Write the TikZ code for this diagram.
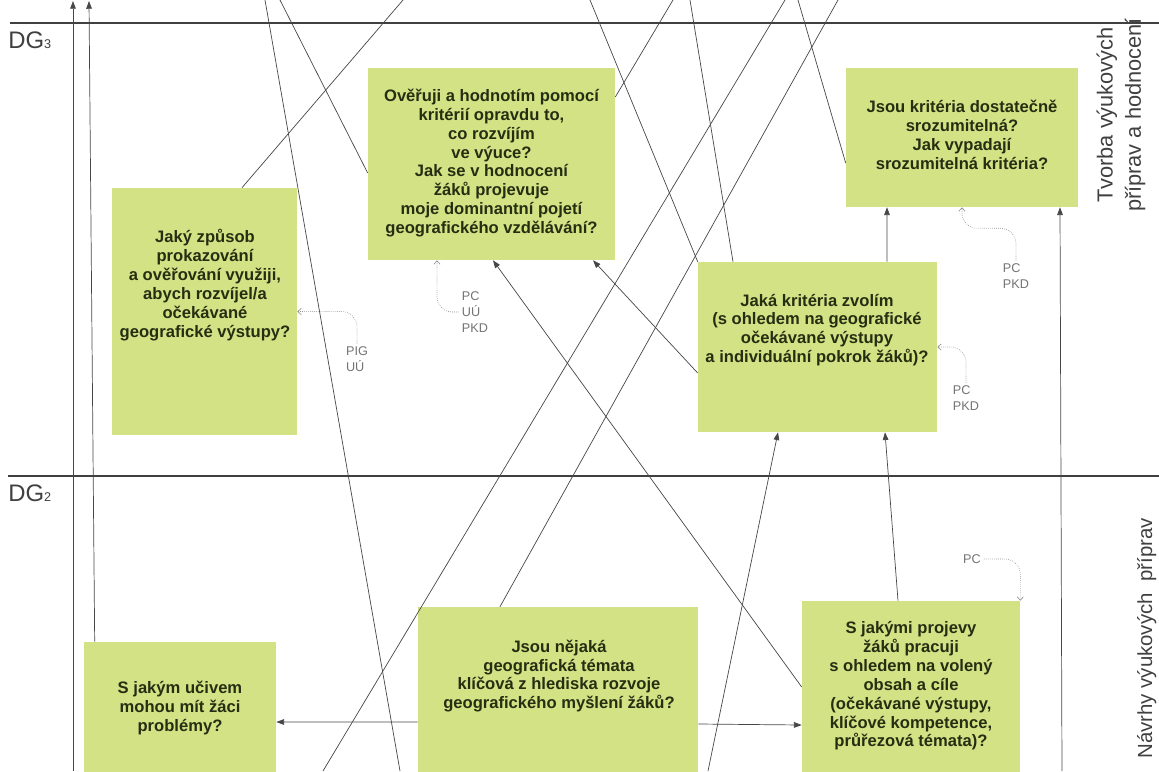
\documentclass[tikz,border=0pt]{standalone}
\usepackage{fontspec}
\setmainfont{Liberation Sans}
\usetikzlibrary{arrows.meta,calc}
\definecolor{boxgreen}{RGB}{212,226,134}
\definecolor{boxtext}{RGB}{38,46,18}
\definecolor{linkgray}{RGB}{70,70,70}
\definecolor{notegray}{RGB}{115,115,115}
\begin{document}
\begin{tikzpicture}[x=0.025cm, y=-0.025cm,
    qbox/.style = {rectangle, fill=boxgreen, draw=none, inner sep=0pt},
    qtext/.style = {align=center, text=boxtext, inner sep=0pt,
                    font=\fontsize{11.8}{13.4}\selectfont\bfseries},
    link/.style = {draw=linkgray, line width=0.5pt},
    arr/.style = {link, -{Triangle[length=5.5pt,width=4pt]}},
    note/.style = {align=left, text=notegray, inner sep=0pt,
                   font=\fontsize{9}{11.2}\selectfont},
    notearr/.style = {draw=notegray!80, line width=0.45pt, densely dotted,
                      rounded corners=11pt, shorten <=2pt,
                      -{Straight Barb[length=2.5pt,width=4.5pt]}},
    level/.style = {anchor=base west, text=black!75, inner sep=0pt,
                    font=\fontsize{17}{17}\selectfont},
    phase/.style = {rotate=90, align=center, text=black!75, inner sep=0pt,
                    font=\fontsize{15.5}{20}\selectfont}]
  \clip (0,0) rectangle (1159,771);

  % levels
  \draw[line width=1.2pt, black!75] (10,23) -- (1159,23);
  \draw[line width=1.2pt, black!75] (8,476) -- (1159,476);
  \node[level] (dg3) at (8,48) {DG{\fontsize{9}{9}\selectfont 3}};
  \node[level] (dg2) at (8,501) {DG{\fontsize{9}{9}\selectfont 2}};
  \node[phase] (tvorba) at (1121,115) {Tvorba výukových\\příprav a hodnocení};
  \node[phase, anchor=base east, font=\fontsize{14.5}{18}\selectfont] (navrhy) at (1152,518) {Návrhy výukových~~příprav};

  % question boxes
  \node[qbox, minimum width=4.625cm, minimum height=6.175cm] (zpusob) at (204.5,311.5) {};
  \node[qtext] (zpusob-t) at (205,285) {Jaký způsob\\prokazování\\a ověřování využiji,\\abych rozvíjel/a\\očekávané\\geografické výstupy?};
  \node[qbox, minimum width=6.175cm, minimum height=4.8cm] (overuji) at (491.5,164) {};
  \node[qtext] (overuji-t) at (491.5,163) {Ověřuji a hodnotím pomocí\\kritérií opravdu to,\\co rozvíjím\\ve výuce?\\Jak se v hodnocení\\žáků projevuje\\moje dominantní pojetí\\geografického vzdělávání?};
  \node[qbox, minimum width=5.8cm, minimum height=3.475cm] (srozum) at (962,137.5) {};
  \node[qtext] (srozum-t) at (962,135) {Jsou kritéria dostatečně\\srozumitelná?\\Jak vypadají\\srozumitelná kritéria?};
  \node[qbox, minimum width=5.975cm, minimum height=4.25cm] (kriteria) at (817.5,347) {};
  \node[qtext] (kriteria-t) at (817,330) {Jaká kritéria zvolím\\(s ohledem na geografické\\očekávané výstupy\\a individuální pokrok žáků)?};
  \node[qbox, minimum width=4.8cm, minimum height=3.7cm] (ucivem) at (180,716) {};
  \node[qtext] (ucivem-t) at (180,708) {S jakým učivem\\mohou mít žáci\\problémy?};
  \node[qbox, minimum width=7cm, minimum height=4.575cm] (temata) at (558,698.5) {};
  \node[qtext] (temata-t) at (559,676) {Jsou nějaká\\geografická témata\\klíčová z hlediska rozvoje\\geografického myšlení žáků?};
  \node[qbox, minimum width=5.45cm, minimum height=4.725cm] (projevy) at (911,695.5) {};
  \node[qtext] (projevy-t) at (911,686) {S jakými projevy\\žáků pracuji\\s ohledem na volený\\obsah a cíle\\(očekávané výstupy,\\klíčové kompetence,\\průřezová témata)?};

  % free ends at the frame
  \coordinate (top-a) at (73,1);    \coordinate (bot-a) at (73,771);
  \coordinate (top-b) at (89,1);
  \coordinate (top-c) at (265,0);   \coordinate (bot-c) at (400,771);
  \coordinate (top-d) at (280,0);
  \coordinate (top-e) at (403,0);
  \coordinate (top-f) at (590,0);
  \coordinate (top-g) at (673,0);
  \coordinate (top-h) at (690,0);
  \coordinate (top-i) at (785,0);   \coordinate (bot-i) at (323,771);
  \coordinate (top-j) at (798,0);
  \coordinate (top-k) at (838,0);
  \coordinate (bot-l) at (708,771);
  \coordinate (bot-m) at (1062,771);

  % links leaving the picture
  \draw[arr] (bot-a) -- (top-a);
  \draw[arr] ($(ucivem.north west)+(11,0)$) -- (top-b);
  \draw[link] (top-c) -- (bot-c);
  \draw[link] (top-d) -- ($(overuji.west)+(0,9)$);
  \draw[link] ($(zpusob.north)+(37.5,0)$) -- (top-e);
  \draw[link] (top-f) -- (kriteria.north west);
  \draw[link] (top-g) -- ($(overuji.east)+(0,-67)$);
  \draw[link] (top-h) -- ($(kriteria.north)+(-84.5,0)$);
  \draw[link] (bot-i) -- (top-i);
  \draw[link] (top-j) -- ($(srozum.west)+(0,25.5)$);
  \draw[link] ($(temata.north)+(-58,0)$) -- (top-k);

  % arrows between the boxes
  \draw[arr] ($(kriteria.west)+(0,26)$) -- ($(overuji.south)+(101.5,0)$);
  \draw[arr] ($(projevy.west)+(0,-8.5)$) -- ($(overuji.south)+(1.5,0)$);
  \draw[arr] (bot-l) -- ($(kriteria.south)+(-39.5,0)$);
  \draw[arr] ($(projevy.north)+(-13,0)$) -- ($(kriteria.south)+(67.5,0)$);
  \draw[arr] ($(kriteria.north)+(69.5,0)$) -- ($(srozum.south)+(-75,0)$);
  \draw[arr] (bot-m) -- ($(srozum.south)+(98,0)$);
  \draw[arr] ($(temata.west)+(0,23.5)$) -- ($(ucivem.east)+(0,6)$);
  \draw[arr] ($(temata.east)+(0,25.5)$) -- ($(projevy.west)+(0,29.5)$);

  % notes
  \node[note] (n-zpusob) at (357,359) {PIG\\UÚ};
  \draw[notearr] (n-zpusob.north) |- (zpusob.east);
  \node[note] (n-overuji) at (475,312) {PC\\UÚ\\PKD};
  \draw[notearr] (n-overuji.west) -| ($(overuji.south)+(-54.5,0)$);
  \node[note] (n-srozum) at (1016,276) {PC\\PKD};
  \draw[notearr] (n-srozum.north) |- ($(srozum.south)+(0,21)$) -- (srozum.south);
  \node[note] (n-kriteria) at (966,398) {PC\\PKD};
  \draw[notearr] (n-kriteria.north) |- (kriteria.east);
  \node[note] (n-projevy) at (972,559) {PC};
  \draw[notearr] (n-projevy.east) -| (projevy.north east);
\end{tikzpicture}
\end{document}
